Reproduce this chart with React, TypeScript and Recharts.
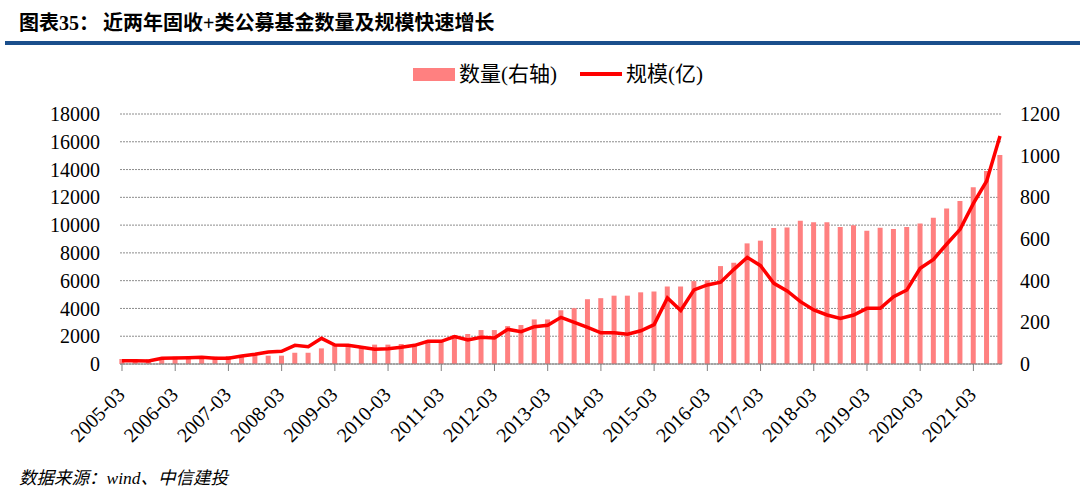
import React from 'react';
import { ComposedChart, Bar, Line, XAxis, YAxis, CartesianGrid } from 'recharts';

const quarters = [
  '2005-03', '2005-06', '2005-09', '2005-12', '2006-03', '2006-06', '2006-09', '2006-12',
  '2007-03', '2007-06', '2007-09', '2007-12', '2008-03', '2008-06', '2008-09', '2008-12',
  '2009-03', '2009-06', '2009-09', '2009-12', '2010-03', '2010-06', '2010-09', '2010-12',
  '2011-03', '2011-06', '2011-09', '2011-12', '2012-03', '2012-06', '2012-09', '2012-12',
  '2013-03', '2013-06', '2013-09', '2013-12', '2014-03', '2014-06', '2014-09', '2014-12',
  '2015-03', '2015-06', '2015-09', '2015-12', '2016-03', '2016-06', '2016-09', '2016-12',
  '2017-03', '2017-06', '2017-09', '2017-12', '2018-03', '2018-06', '2018-09', '2018-12',
  '2019-03', '2019-06', '2019-09', '2019-12', '2020-03', '2020-06', '2020-09', '2020-12',
  '2021-03', '2021-06', '2021-09',
];

// 数量 (右轴)
const fundCount = [
  24, 24, 22, 32, 35, 35, 35, 35,
  38, 42, 45, 40, 40, 54, 54, 75,
  88, 91, 86, 93, 93, 96, 96, 112,
  112, 139, 144, 163, 163, 182, 187, 214,
  214, 258, 268, 311, 316, 328, 328, 344,
  348, 372, 372, 398, 402, 470, 486, 579,
  592, 653, 655, 688, 680, 680, 658, 666,
  640, 654, 648, 658, 675, 702, 747, 782,
  848, 926, 1003,
];

// 规模 (亿), 左轴
const fundScale = [
  240, 240, 216, 408, 432, 456, 480, 408,
  408, 576, 696, 864, 912, 1344, 1248, 1848,
  1368, 1344, 1200, 1056, 1104, 1200, 1344, 1632,
  1632, 1968, 1728, 1920, 1872, 2496, 2328, 2688,
  2784, 3360, 3000, 2640, 2250, 2250, 2150, 2390,
  2840, 4760, 3850, 5340, 5690, 5890, 6816, 7680,
  7080, 5808, 5260, 4488, 3888, 3528, 3288, 3528,
  4008, 4008, 4848, 5328, 6888, 7536, 8640, 9696,
  11568, 13176, 16416,
];

const leftTicks = [0, 2000, 4000, 6000, 8000, 10000, 12000, 14000, 16000, 18000];
const rightTicks = [0, 200, 400, 600, 800, 1000, 1200];

const data = quarters.map((q, i) => ({
  idx: i,
  quarter: q,
  count: fundCount[i],
  scale: fundScale[i],
}));

const yearTicks = quarters.map((q, i) => (q.endsWith('-03') ? i : -1)).filter((i) => i >= 0);

const serif = '"Liberation Serif", "Times New Roman", "Noto Sans CJK SC", serif';

function QuarterTick(props: any) {
  const { x, y, payload } = props;
  const label = quarters[payload.value];
  const ax = x + 4;
  const ay = y + 32;
  return (
    <g>
      <line x1={x} y1={y} x2={x} y2={y + 7} stroke="#808080" strokeWidth={1} />
      <text
        x={ax}
        y={ay}
        transform={`rotate(-45 ${ax} ${ay})`}
        textAnchor="end"
        fontSize={20}
        fill="#000"
        fontFamily={serif}
      >
        {label}
      </text>
    </g>
  );
}

export default function App() {
  return (
    <div style={{ position: 'relative', width: 1080, height: 489, background: '#fff', overflow: 'hidden' }}>
      <style>{`body{margin:0;}`}</style>

      <div style={{ position: 'absolute', left: 19, top: 13, fontFamily: serif, fontWeight: 'bold', fontSize: 20, lineHeight: '20px', color: '#000', whiteSpace: 'nowrap' }}>
        图表35：
      </div>
      <div style={{ position: 'absolute', left: 103, top: 13, fontFamily: serif, fontWeight: 'bold', fontSize: 20, lineHeight: '20px', color: '#000', whiteSpace: 'nowrap' }}>
        近两年固收+类公募基金数量及规模快速增长
      </div>
      <div style={{ position: 'absolute', left: 5, top: 41, width: 1075, height: 4, background: '#1a4f8c' }} />

      <div style={{ position: 'absolute', left: 413, top: 68, width: 42, height: 13, background: '#FF8080' }} />
      <div style={{ position: 'absolute', left: 459, top: 63, fontFamily: serif, fontSize: 21, lineHeight: '22px', color: '#000', whiteSpace: 'nowrap' }}>
        数量(右轴)
      </div>
      <div style={{ position: 'absolute', left: 580, top: 72, width: 42, height: 4, background: '#FF0000' }} />
      <div style={{ position: 'absolute', left: 626, top: 63, fontFamily: serif, fontSize: 21, lineHeight: '22px', color: '#000', whiteSpace: 'nowrap' }}>
        规模(亿)
      </div>

      <div style={{ position: 'absolute', left: 0, top: 0 }}>
        <ComposedChart width={1080} height={489} data={data} margin={{ top: 114, right: 0, bottom: 0, left: 0 }}>
          <CartesianGrid yAxisId="left" vertical={false} stroke="#8c8c8c" strokeDasharray="2 1" />
          <XAxis
            dataKey="idx"
            type="number"
            domain={[-0.15, 66.15]}
            ticks={yearTicks}
            interval={0}
            height={125}
            tickSize={0}
            tickMargin={0}
            tickLine={false}
            tick={<QuarterTick />}
            axisLine={{ stroke: '#808080', strokeWidth: 1.2 }}
          />
          <YAxis
            yAxisId="left"
            orientation="left"
            width={120}
            domain={[0, 18000]}
            ticks={leftTicks}
            interval={0}
            axisLine={false}
            tickLine={false}
            tickSize={0}
            tickMargin={20}
            tick={{ fontSize: 20, fill: '#000', fontFamily: serif }}
          />
          <YAxis
            yAxisId="right"
            orientation="right"
            width={78}
            domain={[0, 1200]}
            ticks={rightTicks}
            interval={0}
            axisLine={false}
            tickLine={false}
            tickSize={0}
            tickMargin={18}
            tick={{ fontSize: 20, fill: '#000', fontFamily: serif, textAnchor: 'start' }}
          />
          <Bar yAxisId="right" dataKey="count" fill="#FF8080" barSize={5} isAnimationActive={false} />
          <Line
            yAxisId="left"
            dataKey="scale"
            type="linear"
            stroke="#FF0000"
            strokeWidth={3.5}
            dot={false}
            activeDot={false}
            isAnimationActive={false}
          />
        </ComposedChart>
      </div>

      <div style={{ position: 'absolute', left: 19, top: 468, fontFamily: serif, fontStyle: 'italic', fontSize: 17.5, lineHeight: '20px', color: '#000', whiteSpace: 'nowrap' }}>
        数据来源：wind、中信建投
      </div>
    </div>
  );
}
